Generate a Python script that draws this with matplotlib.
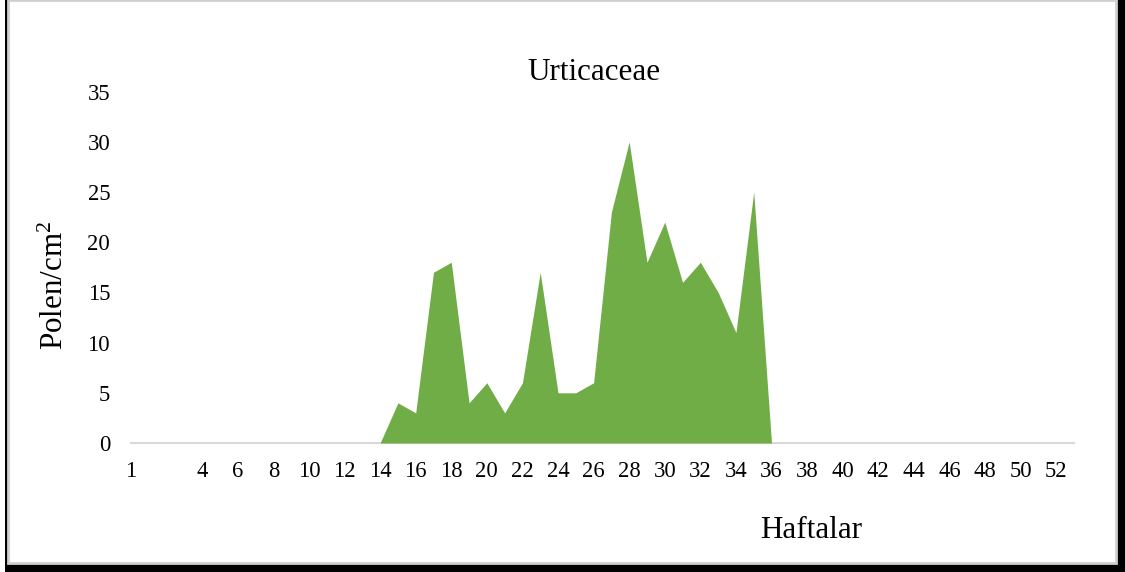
"""
Urticaceae weekly pollen counts (area chart).
Produces out.png
"""

import matplotlib
matplotlib.use("Agg")
import matplotlib.pyplot as plt
from matplotlib.patches import Rectangle

plt.rcParams.update({
    "font.family": ["Liberation Serif", "DejaVu Serif"],
    "mathtext.fontset": "custom",
    "mathtext.rm": "Liberation Serif",
    "mathtext.it": "Liberation Serif:italic",
})

# ── Data ───────────────────────────────────────────────────────────────────────
# category labels as they appear on the axis (slots 1-3 carry no label)
week_labels = ["1", "", "", ""] + [str(w) for w in range(4, 54)]

pollen = [
    0, 0, 0, 0, 0, 0, 0, 0, 0, 0,       # slots 0-9
    0, 0, 0, 0, 0, 4, 3, 17, 18, 4,     # 10-19
    6, 3, 6, 17, 5, 5, 6, 23, 30, 18,   # 20-29
    22, 16, 18, 15, 11, 25, 0, 0, 0, 0, # 30-39
    0, 0, 0, 0, 0, 0, 0, 0, 0, 0,       # 40-49
    0, 0, 0, 0,                         # 50-53
]

y_ticks = [0, 5, 10, 15, 20, 25, 30, 35]

TITLE  = "Urticaceae"
XLABEL = "Haftalar"
YLABEL = "Polen/cm$^{2}$"

GREEN = "#70AD47"
GRID  = "#D9D9D9"

W, H = 1125, 572


def main():
    fig = plt.figure(figsize=(W / 100, H / 100), dpi=100)

    # outer frame: black shadow on left/right/bottom, light grey border inside
    fig.patches.append(Rectangle((5 / W, 0), 1 - 5 / W, 1, transform=fig.transFigure,
                                 facecolor="black", edgecolor="none", zorder=-3))
    fig.patches.append(Rectangle((8 / W, 9 / H), (1116 - 8) / W, 1 - 9 / H,
                                 transform=fig.transFigure, facecolor="white",
                                 edgecolor="#D0D0D0", lw=2, zorder=-2))

    ax = fig.add_axes([131 / W, (H - 443) / H, (1074 - 131) / W, (443 - 91.5) / H])
    ax.patch.set_alpha(0)

    x = list(range(len(pollen)))
    ax.fill_between(x, 0, pollen, color=GREEN, lw=0)

    ax.set_xlim(0, len(pollen) - 1)
    ax.set_ylim(0, 35)
    ax.set_yticks(y_ticks)
    ax.set_xticks(x[::2])
    ax.set_xticklabels(week_labels[::2])

    for side in ["top", "right", "left"]:
        ax.spines[side].set_visible(False)
    ax.spines["bottom"].set_color(GRID)
    ax.spines["bottom"].set_linewidth(1.5)
    ax.spines["bottom"].set_zorder(0)

    ax.tick_params(axis="both", length=0, labelsize=16.3)
    ax.tick_params(axis="y", pad=15)
    ax.tick_params(axis="x", pad=13)

    fig.text(594 / W, 1 - 73 / H, TITLE, ha="center", va="center", fontsize=22.4)
    fig.text(811 / W, 1 - 531 / H, XLABEL, ha="center", va="center", fontsize=22.4)
    fig.text(55 / W, 1 - 285 / H, YLABEL, ha="center", va="center",
             rotation=90, fontsize=22.4)

    fig.savefig("out.png", dpi=100)
    plt.close(fig)


if __name__ == "__main__":
    main()
